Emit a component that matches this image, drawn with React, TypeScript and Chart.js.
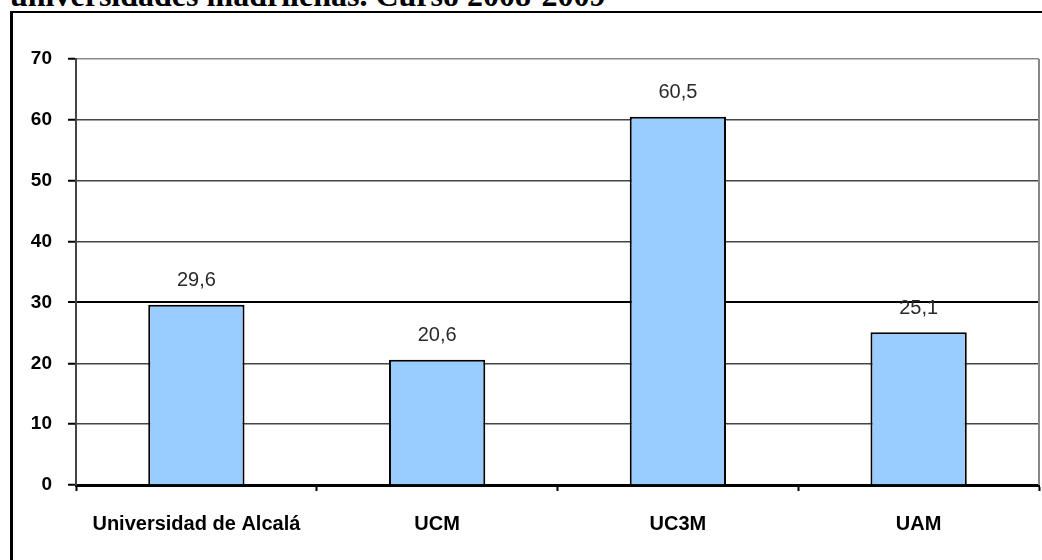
import React, { useEffect, useRef } from "react";
import { Chart, registerables } from "chart.js";

Chart.register(...registerables);

const titleText = "universidades madrileñas. Curso 2008-2009";
const categories = ["Universidad de Alcalá", "UCM", "UC3M", "UAM"];
const values = [29.6, 20.6, 60.5, 25.1];
const yMin = 0;
const yMax = 70;
const yStep = 10;

const fmt = (v: number) => v.toFixed(1).replace(".", ",");

const dataLabelPlugin = {
  id: "dataLabels",
  afterDatasetsDraw(chart: any) {
    const ctx = chart.ctx;
    const meta = chart.getDatasetMeta(0);
    ctx.save();
    ctx.font = '20px "Liberation Sans", Arial, sans-serif';
    ctx.fillStyle = "#2a2a2a";
    ctx.textAlign = "center";
    ctx.textBaseline = "middle";
    meta.data.forEach((bar: any, i: number) => {
      ctx.fillText(fmt(values[i]), bar.x, bar.y - 24);
    });
    ctx.restore();
  },
};

const plotFramePlugin = {
  id: "plotFrame",
  afterDraw(chart: any) {
    const { ctx, chartArea } = chart;
    ctx.save();
    ctx.strokeStyle = "#888";
    ctx.lineWidth = 2;
    ctx.beginPath();
    ctx.moveTo(chartArea.right, chartArea.top);
    ctx.lineTo(chartArea.right, chartArea.bottom);
    ctx.stroke();
    ctx.restore();
  },
};

export default function App() {
  const canvasRef = useRef<HTMLCanvasElement | null>(null);

  useEffect(() => {
    if (!canvasRef.current) return;
    const chart = new Chart(canvasRef.current, {
      type: "bar",
      data: {
        labels: categories,
        datasets: [
          {
            data: values,
            backgroundColor: "#99CCFF",
            borderColor: "#000000",
            borderWidth: 2,
            barPercentage: 0.4,
            categoryPercentage: 1.0,
          },
        ],
      },
      options: {
        animation: false,
        responsive: false,
        maintainAspectRatio: false,
        devicePixelRatio: 1,
        layout: { padding: { left: 0, top: 59, right: 3, bottom: 0 } },
        plugins: {
          legend: { display: false },
          tooltip: { enabled: false },
          title: { display: false },
        },
        scales: {
          x: {
            offset: true,
            grid: {
              offset: true,
              drawOnChartArea: false,
              drawTicks: true,
              tickLength: 6,
              tickColor: "#000",
              tickWidth: 2,
            },
            border: { display: true, color: "#000", width: 3 },
            ticks: {
              color: "#000",
              padding: 21,
              maxRotation: 0,
              autoSkip: false,
              font: { family: '"Liberation Sans", Arial, sans-serif', size: 20, weight: "bold" },
            },
            afterFit: (scale: any) => {
              scale.height = 75;
            },
          },
          y: {
            min: yMin,
            max: yMax,
            grid: {
              color: (c: any) =>
                c.tick && c.tick.value === 30 ? "#000" : c.tick && c.tick.value === 70 ? "#8a8a8a" : "#444",
              lineWidth: (c: any) => (c.tick && c.tick.value === 30 ? 2 : 1.5),
              tickLength: 8,
              tickColor: "#000",
              tickWidth: 2,
            },
            border: { display: true, color: "#444", width: 2 },
            ticks: {
              stepSize: yStep,
              color: "#000",
              padding: 16,
              font: { family: '"Liberation Sans", Arial, sans-serif', size: 19, weight: "bold" },
            },
            afterFit: (scale: any) => {
              scale.width = 76;
            },
          },
        },
      },
      plugins: [dataLabelPlugin, plotFramePlugin],
    });
    return () => chart.destroy();
  }, []);

  return (
    <div
      style={{
        position: "fixed",
        left: 0,
        top: 0,
        width: 1042,
        height: 560,
        overflow: "hidden",
        background: "#fff",
      }}
    >
      <div
        style={{
          position: "absolute",
          left: 10,
          top: -21,
          fontFamily: '"Liberation Serif", "Times New Roman", serif',
          fontWeight: "bold",
          fontSize: 32,
          lineHeight: "32px",
          whiteSpace: "nowrap",
          color: "#000",
        }}
      >
        {titleText}
      </div>
      <div
        style={{
          position: "absolute",
          left: 10,
          top: 11,
          width: 1100,
          height: 600,
          borderLeft: "3px solid #000",
          borderTop: "2px solid #000",
        }}
      />
      <canvas
        ref={canvasRef}
        width={1042}
        height={560}
        style={{ position: "absolute", left: 0, top: 0, width: 1042, height: 560 }}
      />
    </div>
  );
}
